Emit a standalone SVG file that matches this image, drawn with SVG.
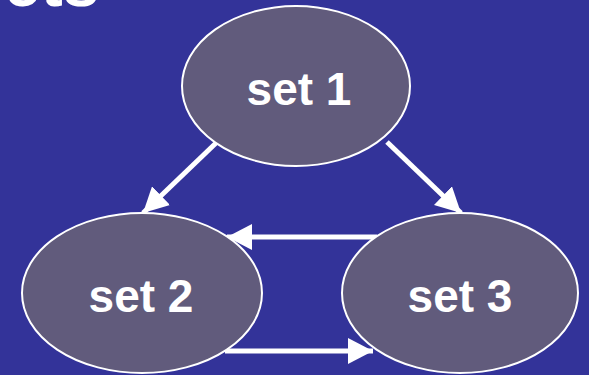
<svg xmlns="http://www.w3.org/2000/svg" width="589" height="375" viewBox="0 0 589 375">
<defs>
<style>
.node{fill:#615b7c;stroke:#ffffff;stroke-width:2}
.lbl{font-family:"Liberation Sans",Arial,sans-serif;font-weight:bold;font-size:46px;fill:#ffffff;text-anchor:middle}
.edge{stroke:#ffffff;stroke-width:5;fill:none;marker-end:url(#ah)}
</style>
<marker id="ah" viewBox="0 0 25 26" refX="25" refY="13" markerWidth="25" markerHeight="26" markerUnits="userSpaceOnUse" orient="auto">
<path d="M0,0 L25,13 L0,26 Z" fill="#ffffff"/>
</marker>
</defs>
<rect width="589" height="375" fill="#333399"/>
<text x="4" y="6" font-family="'Liberation Sans',Arial,sans-serif" font-weight="bold" font-size="66" fill="#ffffff">ets</text>
<g id="connectors">
<line class="edge" x1="216" y1="143" x2="143" y2="213"/>
<line class="edge" x1="387" y1="142" x2="461" y2="213"/>
<line class="edge" x1="377" y1="237" x2="227" y2="237"/>
<line class="edge" x1="225" y1="351" x2="373" y2="351"/>
</g>
<g id="set1">
<ellipse class="node" cx="296" cy="86" rx="114" ry="80"/>
<text class="lbl" x="299" y="105">set 1</text>
</g>
<g id="set2">
<ellipse class="node" cx="142" cy="293" rx="120" ry="80"/>
<text class="lbl" x="141" y="312">set 2</text>
</g>
<g id="set3">
<ellipse class="node" cx="460" cy="293" rx="118" ry="80"/>
<text class="lbl" x="460" y="312">set 3</text>
</g>
</svg>
